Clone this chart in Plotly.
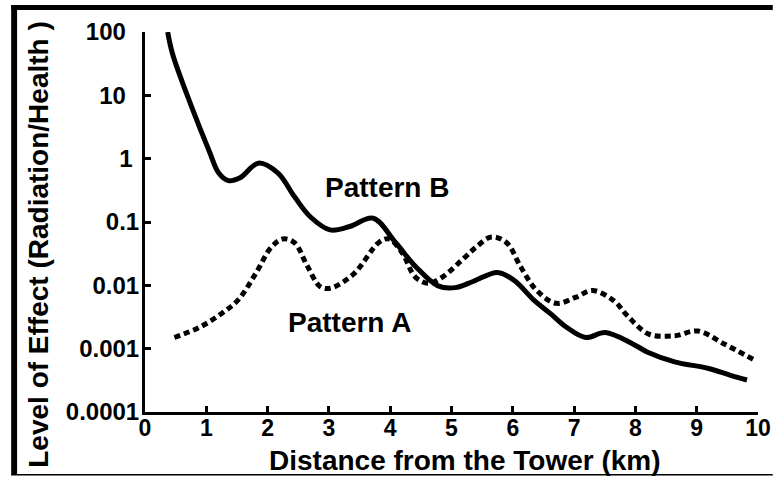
import plotly.graph_objects as go

# Distance from the tower (km) and level of effect for each pattern
pattern_b_km = [0.37, 0.45, 0.75, 1.05, 1.2, 1.36, 1.55, 1.85, 2.17, 2.44, 2.7,
                3.02, 3.34, 3.72, 4.09, 4.41, 4.78, 5.06, 5.35, 5.75, 6.02, 6.34, 6.61,
                6.87, 7.19, 7.51, 7.95, 8.2, 8.64, 9.18, 9.55, 9.82]
pattern_b_level = [100, 45, 7.0, 1.3, 0.6, 0.45, 0.5, 0.85, 0.59, 0.25, 0.12,
                   0.075, 0.085, 0.115, 0.047, 0.02, 0.0098, 0.0092, 0.0115, 0.016, 0.012,
                   0.0059, 0.0036, 0.0022, 0.0015, 0.0018, 0.0012, 0.00088, 0.00062,
                   0.00049, 0.00038, 0.00032]

pattern_a_km = [0.48, 0.9, 1.25, 1.52, 1.8, 2.06, 2.25, 2.44, 2.65, 2.86, 3.02, 3.4,
                3.82, 3.98, 4.2, 4.41, 4.63, 4.85, 5.17, 5.4, 5.65, 5.9, 6.13, 6.39,
                6.71, 7.03, 7.3, 7.65, 7.87, 8.22, 8.64, 9.02, 9.44, 9.92]
pattern_a_level = [0.0015, 0.0022, 0.0036, 0.0059, 0.015, 0.04, 0.054, 0.047, 0.02,
                   0.0095, 0.009, 0.015, 0.048, 0.054, 0.032, 0.0135, 0.0108, 0.0135,
                   0.025, 0.04, 0.058, 0.047, 0.0195, 0.0083, 0.0052, 0.0065, 0.0083,
                   0.0057, 0.0033, 0.0017, 0.0016, 0.0019, 0.0012, 0.00068]

x_ticks = list(range(0, 11))
x_tick_text = [str(v) for v in x_ticks]
y_tick_vals = [0.0001, 0.001, 0.01, 0.1, 1, 10, 100]
y_tick_text = ["0.0001", "0.001", "0.01", "0.1", "1", "10", "100"]
# extra right padding (in spaces) for the whole-number labels
y_tick_pad = [0, 0, 0, 0, 1, 2, 2]

W, H = 783, 477
L, R, T, B = 145, 15, 32, 65
PW, PH = W - L - R, H - T - B


def px_x(p):
    return (p - L) / PW


def px_y(p):
    return (H - B - p) / PH


def bold(labels, pads=None):
    pads = pads or [0] * len(labels)
    return ["<b>%s%s</b>" % (s, "&nbsp;" * n) for s, n in zip(labels, pads)]


FONT = "Liberation Sans, Arial, sans-serif"

fig = go.Figure()
fig.add_trace(go.Scatter(
    x=pattern_b_km, y=pattern_b_level, mode="lines",
    line=dict(color="black", width=5, shape="spline", smoothing=1.0),
    showlegend=False,
))
fig.add_trace(go.Scatter(
    x=pattern_a_km, y=pattern_a_level, mode="lines",
    line=dict(color="black", width=5, shape="spline", smoothing=1.0, dash="6px,4px"),
    showlegend=False,
))

axis_common = dict(
    showgrid=False, zeroline=False, showline=True, linecolor="black", linewidth=3,
    ticks="inside", ticklen=6, tickwidth=3, tickcolor="black",
)

fig.update_xaxes(range=[0, 10], tickvals=x_ticks, ticktext=bold(x_tick_text),
                 ticklabelstandoff=-7,
                 tickfont=dict(family=FONT, size=23, color="black", weight="bold"),
                 **axis_common)
fig.update_yaxes(type="log", range=[-4, 2], tickvals=y_tick_vals,
                 ticktext=bold(y_tick_text, y_tick_pad), ticklabelstandoff=-2,
                 tickfont=dict(family=FONT, size=24, color="black", weight="bold"),
                 **axis_common)

annotations = [
    dict(text="Pattern B", x=px_x(391), y=px_y(187)),
    dict(text="Pattern A", x=px_x(353), y=px_y(322)),
    dict(text="Distance from the Tower (km)", x=px_x(470), y=px_y(460)),
    dict(text="Level of Effect (Radiation/Health )", x=px_x(37), y=px_y(244), textangle=-90),
]
for a in annotations:
    fig.add_annotation(xref="paper", yref="paper", showarrow=False,
                       xanchor="center", yanchor="middle",
                       font=dict(family=FONT, size=28, color="black", weight="bold"), **a)

# Frame around the figure
frame = [
    dict(x0=px_x(9), x1=px_x(15), y0=px_y(5), y1=px_y(475)),
    dict(x0=px_x(9), x1=px_x(783), y0=px_y(5), y1=px_y(10)),
    dict(x0=px_x(9), x1=px_x(783), y0=px_y(474), y1=px_y(475.5)),
]
for s in frame:
    fig.add_shape(type="rect", xref="paper", yref="paper", fillcolor="black",
                  line=dict(width=0), layer="above", **s)

fig.update_layout(
    width=W, height=H,
    margin=dict(l=L, r=R, t=T, b=B),
    paper_bgcolor="white", plot_bgcolor="white",
)

fig.write_html("out.html")
